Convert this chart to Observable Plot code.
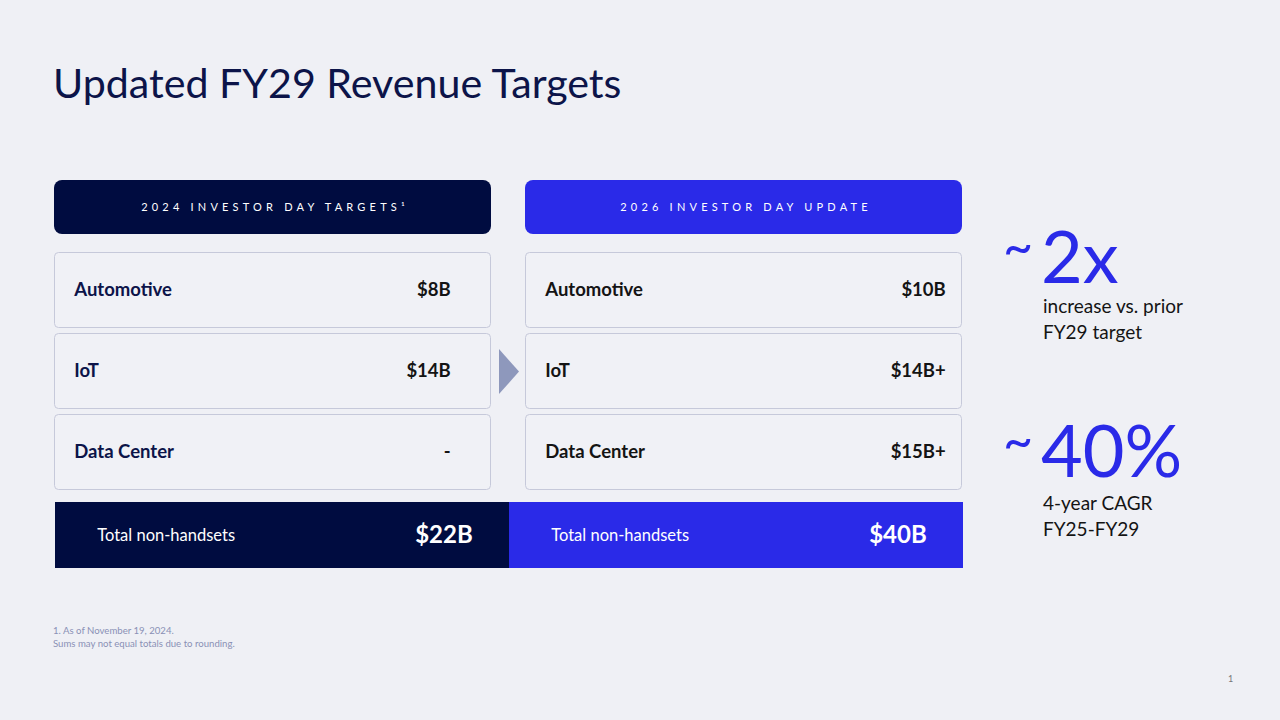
<!DOCTYPE html>
<html><head><meta charset="utf-8">
<script src="https://cdn.jsdelivr.net/npm/d3@7"></script>
<script src="https://cdn.jsdelivr.net/npm/@observablehq/plot@0.6"></script>
<style>
html,body{margin:0;padding:0;background:#eff0f5;}
body{width:1280px;height:720px;position:relative;overflow:hidden;font-family:Lato,"Open Sans",sans-serif;}
.abs{position:absolute;white-space:nowrap;}
#title{left:53px;top:62px;font-size:41.2px;line-height:40px;color:#0c1449;}
#hdr text{letter-spacing:4.2px;}
.tilde{font-size:52px;line-height:40px;color:#2a2ae8;}
.big{font-size:72px;line-height:60px;color:#2a2ae8;}
.desc{font-size:19px;line-height:26px;color:#141414;}
#foot{left:53px;top:624px;font-size:9.6px;line-height:13px;color:#8a91b5;}
#page{left:1228px;top:673px;font-size:9px;color:#777;}
</style></head>
<body>
<div id="title" class="abs"></div>
<div id="hdr" class="abs" style="left:54px;top:180px"></div>
<div id="rows" class="abs" style="left:54px;top:252px"></div>
<div id="tot" class="abs" style="left:54px;top:502px"></div>
<div id="stats"></div>
<div id="foot" class="abs"></div>
<div id="page" class="abs">1</div>
<script>
// ---- data ----
const title = "Updated FY29 Revenue Targets";
const columns = ["2024 INVESTOR DAY TARGETS¹", "2026 INVESTOR DAY UPDATE"];
const segments = ["Automotive", "IoT", "Data Center"];
const targets2024 = ["$8B", "$14B", "-"];
const update2026 = ["$10B", "$14B+", "$15B+"];
const totalLabel = "Total non-handsets";
const totals = ["$22B", "$40B"];
const statValues = ["2x", "40%"];
const statDescs = [["increase vs. prior", "FY29 target"], ["4-year CAGR", "FY25-FY29"]];
const footnotes = ["1. As of November 19, 2024.", "Sums may not equal totals due to rounding."];

// ---- styles ----
const navy = "#000c40", blue = "#2a2ae8", ink = "#141414", labelNavy = "#0c1449";
const W = 909;
const padIn = 0.0721;
const step = W / (2 - padIn), bw = step * (1 - padIn);
const colorScale = {type: "ordinal", domain: columns, range: [navy, blue]};

document.getElementById("title").textContent = title;

// Header
const hdr = Plot.plot({
  width: W, height: 54, margin: 0,
  x: {type: "band", domain: columns, paddingInner: padIn, paddingOuter: 0, axis: null},
  color: colorScale,
  style: {background: "transparent", fontFamily: "Lato, sans-serif"},
  marks: [
    Plot.cell(columns, {x: d => d, fill: d => d, rx: 8, inset: 0}),
    Plot.text(columns, {x: d => d, text: d => d, fill: "white", fontSize: 11, dx: 2})
  ]
});
document.getElementById("hdr").append(hdr);

// Rows
const table = segments.flatMap((s, i) => [
  {col: columns[0], seg: s, value: targets2024[i]},
  {col: columns[1], seg: s, value: update2026[i]}
]);
const tri = {draw(ctx, size) {
  const s = Math.sqrt(size / Math.PI);
  ctx.moveTo(-s, -2.25 * s); ctx.lineTo(s, 0); ctx.lineTo(-s, 2.25 * s); ctx.closePath();
}};
const rows = Plot.plot({
  width: W, height: 238, margin: 0,
  x: {type: "band", domain: columns, paddingInner: padIn, paddingOuter: 0, axis: null},
  y: {type: "band", domain: segments, paddingInner: 5 / 81, paddingOuter: 0, axis: null},
  style: {background: "transparent", fontFamily: "Lato, sans-serif"},
  marks: [
    Plot.cell(table, {x: "col", y: "seg", fill: "#f0f1f6", stroke: "#c6c9da", rx: 4, inset: 0.5}),
    Plot.text(table, {x: "col", y: "seg", text: "seg", textAnchor: "start", dx: -bw / 2 + 20,
      fontWeight: "bold", fontSize: 18.5, fill: d => d.col === columns[0] ? labelNavy : ink}),
    Plot.text(table.filter(d => d.col === columns[0]), {x: "col", y: "seg", text: "value",
      textAnchor: "end", dx: bw / 2 - 41, fontWeight: "bold", fontSize: 18.5, fill: ink}),
    Plot.text(table.filter(d => d.col === columns[1]), {x: "col", y: "seg", text: "value",
      textAnchor: "end", dx: bw / 2 - 17, fontWeight: "bold", fontSize: 18.5, fill: ink}),
    Plot.dot(["IoT"], {y: d => d, frameAnchor: "middle", symbol: tri, r: 10, fill: "#8e98bc", stroke: null})
  ]
});
document.getElementById("rows").append(rows);

// Totals
const totRows = columns.map((c, i) => ({col: c, value: totals[i]}));
const tot = Plot.plot({
  width: W, height: 66, margin: 0,
  x: {type: "band", domain: columns, paddingInner: 0, paddingOuter: 0, axis: null},
  color: colorScale,
  style: {background: "transparent", fontFamily: "Lato, sans-serif"},
  marks: [
    Plot.cell(totRows, {x: "col", fill: "col", inset: 0}),
    Plot.text(totRows, {x: "col", text: () => totalLabel, textAnchor: "start", dx: -W / 4 + 42,
      fill: "white", fontSize: 16.5}),
    Plot.text(totRows, {x: "col", text: "value", textAnchor: "end", dx: W / 4 - 37,
      fill: "white", fontSize: 24, fontWeight: "bold"})
  ]
});
document.getElementById("tot").append(tot);

// Stats
const statTops = [225, 419];
const stats = document.getElementById("stats");
statValues.forEach((v, i) => {
  const t = statTops[i];
  stats.insertAdjacentHTML("beforeend",
    `<div class="abs tilde" style="left:1003px;top:${t}px">~</div>` +
    `<div class="abs big" style="left:1041px;top:${t}px">${v}</div>` +
    `<div class="abs desc" style="left:1043px;top:${t + 68 + i * 3}px">${statDescs[i].join("<br>")}</div>`);
});

document.getElementById("foot").innerHTML = footnotes.join("<br>");
</script>
</body></html>
